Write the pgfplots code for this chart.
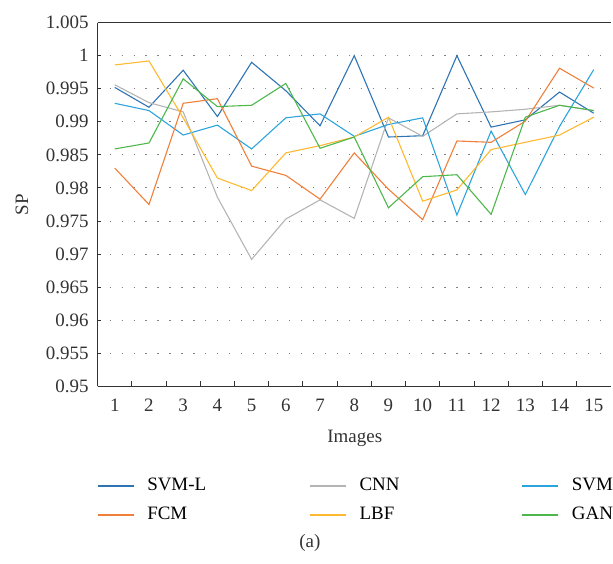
\documentclass[border=0pt]{standalone}
\usepackage{pgfplots}
\usepackage{pgfplotstable}
\pgfplotsset{compat=1.18}
\usepackage{fontspec}
\setmainfont{Liberation Serif}
\definecolor{cSVML}{HTML}{2E74B5}
\definecolor{cCNN}{HTML}{B4B4B4}
\definecolor{cSVM}{HTML}{2CA5DE}
\definecolor{cFCM}{HTML}{F07F3A}
\definecolor{cLBF}{HTML}{FDB930}
\definecolor{cGAN}{HTML}{4EB74C}
\definecolor{axc}{HTML}{333333}
\pgfplotstableread{
x SVML CNN SVM FCM LBF GAN
1 0.9952 0.9956 0.9928 0.9830 0.9986 0.9859
2 0.9922 0.9929 0.9917 0.9775 0.9992 0.9868
3 0.9978 0.9915 0.9880 0.9928 0.9906 0.9965
4 0.9908 0.9786 0.9895 0.9935 0.9815 0.9923
5 0.9990 0.9692 0.9859 0.9833 0.9796 0.9925
6 0.9947 0.9753 0.9906 0.9819 0.9853 0.9958
7 0.9894 0.9782 0.9912 0.9783 0.9864 0.9860
8 1.0000 0.9754 0.9878 0.9853 0.9877 0.9877
9 0.9877 0.9906 0.9896 0.9798 0.9907 0.9770
10 0.9879 0.9878 0.9906 0.9752 0.9780 0.9817
11 1.0000 0.9912 0.9759 0.9871 0.9797 0.9820
12 0.9892 0.9915 0.9886 0.9869 0.9858 0.9760
13 0.9903 0.9919 0.9790 0.9901 0.9869 0.9907
14 0.9945 0.9925 0.9893 0.9981 0.9880 0.9925
15 0.9913 0.9917 0.9979 0.9951 0.9907 0.9917
}\datatab
\newcommand{\lw}[1]{\makebox[149.5pt][l]{#1}}
\pgfplotsset{
  mylegend/.style 2 args={
    legend columns=3,
    legend style={draw=none, fill=none, inner sep=0pt, at={(rel axis cs:-0.002,#1)}, anchor=north west,
      font=\fontsize{19}{22}\selectfont,
      nodes={inner sep=0pt, text height=13pt, text depth=4pt},
      column sep=13pt},
    legend cell align=left,
    legend image code/.code={\draw[##1, line width=#2] (0pt,0pt) -- (36pt,0pt);},
  }
}
\begin{document}
\begin{tikzpicture}[x=1pt,y=1pt]
\path (0,0) rectangle (613,565);
\begin{axis}[
  at={(98pt,177.3pt)}, anchor=south west,
  scale only axis, width=515pt, height=365pt,
  xmin=0.5, xmax=15.5, ymin=0.95, ymax=1.005,
  axis x line*=bottom, axis y line*=left,
  axis line style={draw=axc, line width=1.2pt},
  every tick/.style={draw=axc, line width=0.9pt},
  tick align=inside,
  xtick={1,...,15},
  minor xtick={1.5,2.5,...,14.5},
  major x tick style={draw=none},
  minor tick length=5pt,
  major tick length=3.5pt,
  ytick={0.95,0.955,0.96,0.965,0.97,0.975,0.98,0.985,0.99,0.995,1,1.005},
  yticklabels={0.95,0.955,0.96,0.965,0.97,0.975,0.98,0.985,0.99,0.995,1,1.005},
  ymajorgrids,
  major grid style={draw=gray, line width=0.9pt, dash pattern=on 1.2pt off 10.8pt},
  /pgf/number format/assume math mode=true,
  tick label style={font=\fontsize{19}{22}\selectfont, text=axc},
  xticklabel style={anchor=north, inner sep=0pt, yshift=-12.6pt},
  yticklabel style={anchor=east, inner sep=0pt, xshift=-9pt},
  xlabel={Images},
  every axis x label/.style={at={(axis description cs:0.501,-0.1433)}, anchor=center, font=\fontsize{19}{22}\selectfont, text=axc},
  ylabel={SP},
  every axis y label/.style={at={(axis description cs:-0.1476,0.5)}, anchor=center, rotate=90, font=\fontsize{19}{22}\selectfont, text=axc},
  mylegend={-0.2504}{1.6pt},
  extra description/.code={\draw[axc, line width=1.2pt] (rel axis cs:0,1) -- (rel axis cs:1,1);},
  every axis plot/.append style={line width=1.1pt, mark=none},
]
\addplot[cSVML] table[x=x,y=SVML]{\datatab};
\addlegendentry{\lw{SVM-L}}
\addplot[cCNN] table[x=x,y=CNN]{\datatab};
\addlegendentry{\lw{CNN}}
\addplot[cSVM] table[x=x,y=SVM]{\datatab};
\addlegendentry{SVM}
\addplot[cFCM] table[x=x,y=FCM]{\datatab};
\addplot[cLBF] table[x=x,y=LBF]{\datatab};
\addplot[cGAN] table[x=x,y=GAN]{\datatab};
\end{axis}
\begin{axis}[
  at={(98pt,177.3pt)}, anchor=south west,
  scale only axis, width=515pt, height=365pt,
  xmin=0, xmax=1, ymin=0, ymax=1, hide axis,
  mylegend={-0.3299}{1.6pt},
]
\addlegendimage{cFCM}
\addlegendentry{\lw{FCM}}
\addlegendimage{cLBF}
\addlegendentry{\lw{LBF}}
\addlegendimage{cGAN}
\addlegendentry{GAN}
\end{axis}
\node[font=\fontsize{19}{22}\selectfont, text=axc] at (311,20) {(a)};
\end{tikzpicture}
\end{document}
